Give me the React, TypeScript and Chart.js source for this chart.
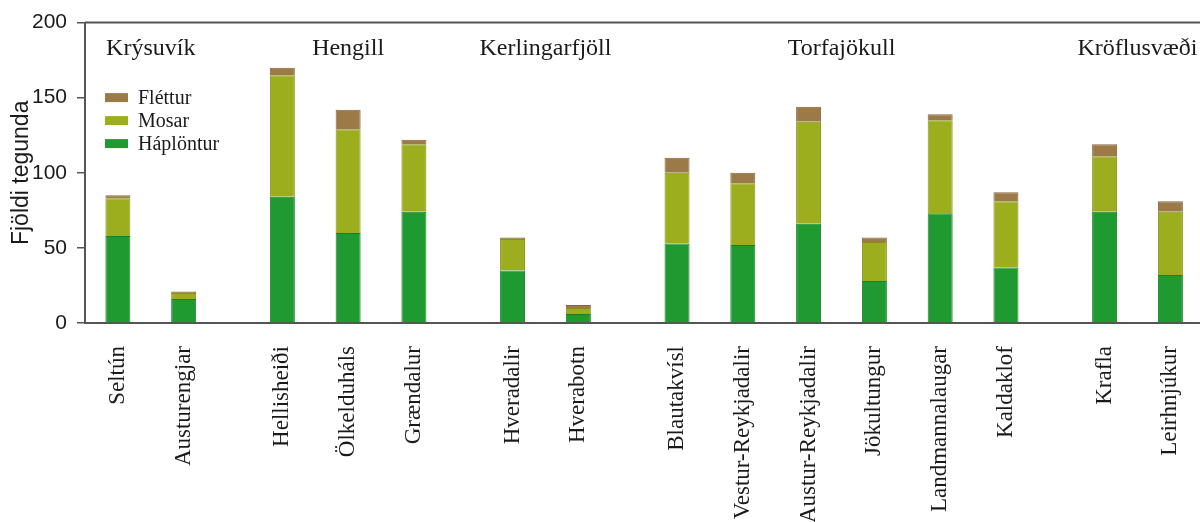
import React, { useEffect, useRef } from "react";
import { Chart, registerables } from "chart.js";

Chart.register(...registerables);

const categories = [
  "Seltún", "Austurengjar",
  "Hellisheiði", "Ölkelduháls", "Grændalur",
  "Hveradalir", "Hverabotn",
  "Blautakvísl", "Vestur-Reykjadalir", "Austur-Reykjadalir", "Jökultungur", "Landmannalaugar", "Kaldaklof",
  "Krafla", "Leirhnjúkur",
];
const groupNames = ["Krýsuvík", "Hengill", "Kerlingarfjöll", "Torfajökull", "Kröflusvæði"];
const groupOfCategory = [0, 0, 1, 1, 1, 2, 2, 3, 3, 3, 3, 3, 3, 4, 4];

const haplontur = [58, 16, 84, 60, 74, 35, 6, 53, 52, 66, 28, 73, 37, 74, 32];
const mosar = [25, 4, 81, 69, 45, 21, 4, 47, 41, 68, 26, 62, 44, 37, 42];
const flettur = [2, 1, 5, 13, 3, 1, 2, 10, 7, 10, 3, 4, 6, 8, 7];

const yTickValues = [0, 50, 100, 150, 200];

// slot positions: one slot per site plus half a slot between regions
const positions = categories.map((_, i) => i + 0.5 * groupOfCategory[i]);

const SERIF = '"Liberation Serif", "Times New Roman", Times, serif';
const SANS = '"Liberation Sans", Arial, Helvetica, sans-serif';

const overlayPlugin = {
  id: "overlay",
  afterDraw(chart: any) {
    const { ctx, chartArea: a, scales } = chart;
    const x = scales.x;
    ctx.save();
    // top frame line
    ctx.strokeStyle = "#555";
    ctx.lineWidth = 2;
    ctx.beginPath();
    ctx.moveTo(a.left, a.top);
    ctx.lineTo(a.right, a.top);
    ctx.stroke();

    // region labels
    ctx.font = `24px ${SERIF}`;
    ctx.fillStyle = "#1a1a1a";
    ctx.textAlign = "center";
    ctx.textBaseline = "middle";
    groupNames.forEach((name, g) => {
      const ps = positions.filter((_, i) => groupOfCategory[i] === g);
      const c = (Math.min(...ps) + Math.max(...ps)) / 2;
      ctx.fillText(name, x.getPixelForValue(c), a.top + 26);
    });

    // legend (reversed order)
    const ds = [...chart.data.datasets].reverse();
    ctx.font = `20px ${SERIF}`;
    ctx.textAlign = "left";
    ds.forEach((d: any, k: number) => {
      const cy = a.top + 75 + k * 23;
      ctx.fillStyle = d.backgroundColor;
      ctx.fillRect(a.left + 20, cy - 4.5, 23, 9);
      ctx.fillStyle = "#1a1a1a";
      ctx.fillText(d.label, a.left + 53, cy + 1);
    });
    ctx.restore();
  },
};

export default function App() {
  const ref = useRef<HTMLCanvasElement | null>(null);

  useEffect(() => {
    if (!ref.current) return;
    const mk = (arr: number[]) => arr.map((v, i) => ({ x: positions[i], y: v }));
    const chart = new Chart(ref.current, {
      type: "bar",
      data: {
        datasets: [
          {
            label: "Háplöntur",
            data: mk(haplontur),
            backgroundColor: "#1e9a30",
            borderColor: "#17802a",
            borderWidth: 1,
          },
          {
            label: "Mosar",
            data: mk(mosar),
            backgroundColor: "#9cad1e",
            borderColor: "#868f1a",
            borderWidth: 1,
          },
          {
            label: "Fléttur",
            data: mk(flettur),
            backgroundColor: "#9c7a48",
            borderColor: "#85673c",
            borderWidth: 1,
          },
        ] as any,
      },
      options: {
        animation: false,
        responsive: false,
        maintainAspectRatio: false,
        layout: { padding: { top: 22, right: 0, left: 0, bottom: 0 } },
        datasets: { bar: { categoryPercentage: 1, barPercentage: 0.38 } } as any,
        plugins: {
          legend: { display: false },
          tooltip: { enabled: false },
        },
        scales: {
          x: {
            type: "linear",
            stacked: true,
            offset: false,
            min: -0.5,
            max: 16.45,
            grid: { display: false, offset: false },
            border: { display: true, color: "#555", width: 2 },
            afterBuildTicks: (scale: any) => {
              scale.ticks = positions.map((v) => ({ value: v }));
            },
            afterFit: (scale: any) => {
              scale.height = 199;
              scale.paddingLeft = 0;
              scale.paddingRight = 0;
            },
            ticks: {
              autoSkip: false,
              minRotation: 90,
              maxRotation: 90,
              padding: 15,
              color: "#1a1a1a",
              font: { family: SERIF, size: 23 },
              callback: (_v: any, i: number) => categories[i],
            },
          },
          y: {
            stacked: true,
            min: 0,
            max: 200,
            afterBuildTicks: (scale: any) => {
              scale.ticks = yTickValues.map((v) => ({ value: v }));
            },
            afterFit: (scale: any) => {
              scale.width = 85;
            },
            grid: {
              display: true,
              drawOnChartArea: false,
              drawTicks: true,
              tickLength: 8,
              color: "#555",
              lineWidth: 1.5,
            },
            border: { display: true, color: "#555", width: 2 },
            ticks: {
              padding: 10,
              color: "#1a1a1a",
              font: { family: SANS, size: 21 },
            },
            title: {
              display: true,
              text: "Fjöldi tegunda",
              color: "#1a1a1a",
              font: { family: SANS, size: 23 },
              padding: { top: 8, bottom: 0 },
            },
          },
        } as any,
      },
      plugins: [overlayPlugin as any],
    });
    return () => chart.destroy();
  }, []);

  return (
    <div style={{ position: "absolute", left: 0, top: 0, width: 1200, height: 522, background: "#fff" }}>
      <canvas ref={ref} width={1200} height={522} style={{ display: "block" }} />
    </div>
  );
}
